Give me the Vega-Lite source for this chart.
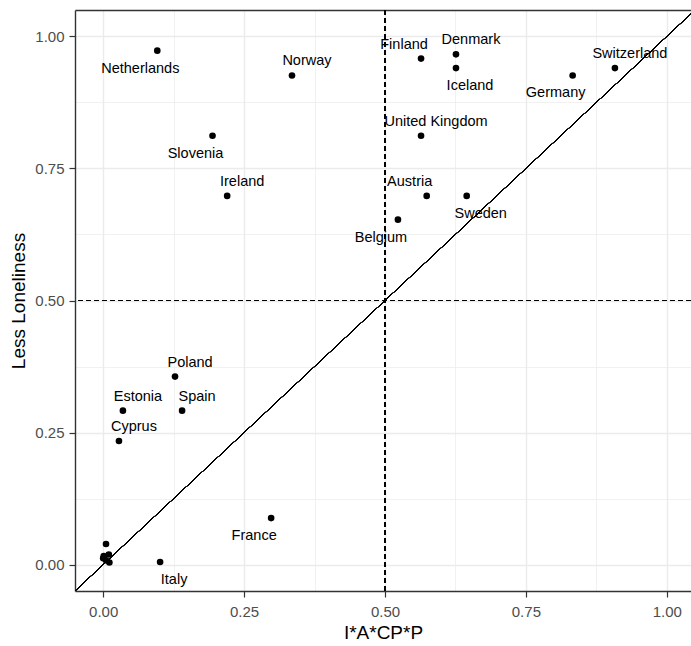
{
  "$schema": "https://vega.github.io/schema/vega-lite/v6.json",
  "autosize": {"type": "none"},
  "width": 616,
  "height": 581,
  "padding": {"left": 75, "top": 10, "right": 0, "bottom": 55},
  "background": "white",
  "config": {
    "view": {"stroke": null},
    "font": "Liberation Sans",
    "axis": {
      "domainColor": "#333333",
      "domainWidth": 1.4,
      "tickColor": "#333333",
      "tickWidth": 1.2,
      "tickSize": 6,
      "labelFont": "Liberation Sans",
      "labelFontSize": 15,
      "labelColor": "#4D4D4D",
      "titleFont": "Liberation Sans",
      "titleFontSize": 19,
      "titleFontWeight": "normal",
      "titleColor": "#000000",
      "gridColor": "#EBEBEB"
    }
  },
  "data": {
    "values": [
      {"country": "Netherlands", "x": 0.096, "y": 0.973},
      {"country": "Slovenia", "x": 0.194, "y": 0.812},
      {"country": "Ireland", "x": 0.220, "y": 0.698},
      {"country": "Norway", "x": 0.335, "y": 0.926},
      {"country": "Finland", "x": 0.564, "y": 0.958},
      {"country": "Denmark", "x": 0.626, "y": 0.966},
      {"country": "Iceland", "x": 0.626, "y": 0.940},
      {"country": "United Kingdom", "x": 0.564, "y": 0.812},
      {"country": "Austria", "x": 0.574, "y": 0.698},
      {"country": "Sweden", "x": 0.645, "y": 0.698},
      {"country": "Belgium", "x": 0.523, "y": 0.653},
      {"country": "Germany", "x": 0.833, "y": 0.926},
      {"country": "Switzerland", "x": 0.908, "y": 0.940},
      {"country": "Poland", "x": 0.1275, "y": 0.356},
      {"country": "Estonia", "x": 0.035, "y": 0.2915},
      {"country": "Spain", "x": 0.140, "y": 0.2915},
      {"country": "Cyprus", "x": 0.028, "y": 0.234},
      {"country": "France", "x": 0.298, "y": 0.088},
      {"country": "Italy", "x": 0.101, "y": 0.005},
      {"x": 0.005, "y": 0.039},
      {"x": 0.010, "y": 0.019},
      {"x": 0.000, "y": 0.012},
      {"x": 0.005, "y": 0.008},
      {"x": 0.011, "y": 0.004},
      {"x": 0.001, "y": 0.016}
    ]
  },
  "resolve": {"axis": {"x": "independent"}},
  "layer": [
    {
      "mark": {"type": "point", "filled": true, "opacity": 0, "size": 1},
      "encoding": {
        "x": {
          "field": "x", "type": "quantitative",
          "scale": {"domain": [-0.05, 1.043], "nice": false, "zero": false},
          "axis": {
            "title": "I*A*CP*P",
            "titlePadding": 4,
            "values": [0, 0.125, 0.25, 0.375, 0.5, 0.625, 0.75, 0.875, 1],
            "labelExpr": "indexof([0, 0.25, 0.5, 0.75, 1], datum.value) >= 0 ? format(datum.value, '.2f') : ''",
            "labelPadding": 7,
            "tickOpacity": {"condition": {"test": "indexof([0, 0.25, 0.5, 0.75, 1], datum.value) >= 0", "value": 1}, "value": 0},
            "gridWidth": {"condition": {"test": "indexof([0, 0.25, 0.5, 0.75, 1], datum.value) >= 0", "value": 1.4}, "value": 0.7}
          }
        },
        "y": {
          "field": "y", "type": "quantitative",
          "scale": {"domain": [-0.05, 1.05], "nice": false, "zero": false},
          "axis": {
            "title": "Less Loneliness",
            "titlePadding": 6,
            "values": [0, 0.125, 0.25, 0.375, 0.5, 0.625, 0.75, 0.875, 1],
            "labelExpr": "indexof([0, 0.25, 0.5, 0.75, 1], datum.value) >= 0 ? format(datum.value, '.2f') : ''",
            "labelPadding": 5,
            "tickOpacity": {"condition": {"test": "indexof([0, 0.25, 0.5, 0.75, 1], datum.value) >= 0", "value": 1}, "value": 0},
            "gridWidth": {"condition": {"test": "indexof([0, 0.25, 0.5, 0.75, 1], datum.value) >= 0", "value": 1.4}, "value": 0.7}
          }
        }
      }
    },
    {
      "mark": {"type": "rule", "color": "#000000", "strokeWidth": 0.8, "clip": true},
      "encoding": {
        "x": {"datum": -0.1, "type": "quantitative", "axis": {"orient": "top", "labels": false, "ticks": false, "grid": false, "title": null, "domain": true}},
        "y": {"datum": -0.1, "type": "quantitative"},
        "x2": {"datum": 1.2},
        "y2": {"datum": 1.2}
      }
    },
    {
      "mark": {"type": "rule", "color": "#000000", "strokeWidth": 1.1, "strokeDash": [5, 3]},
      "encoding": {
        "x": {"datum": 0.5, "type": "quantitative", "axis": null}
      }
    },
    {
      "mark": {"type": "rule", "color": "#000000", "strokeWidth": 1.1, "strokeDash": [5, 3]},
      "encoding": {
        "y": {"datum": 0.5, "type": "quantitative"}
      }
    },
    {
      "mark": {"type": "circle", "color": "#000000", "opacity": 1, "size": 44},
      "encoding": {
        "x": {"field": "x", "type": "quantitative", "axis": null},
        "y": {"field": "y", "type": "quantitative"}
      }
    },
    {
      "transform": [{"filter": {"field": "country", "oneOf": ["Ireland", "Norway", "Denmark", "United Kingdom", "Switzerland", "Poland", "Estonia", "Spain", "Cyprus"]}}],
      "mark": {"type": "text", "fontSize": 14.5, "color": "#000000", "align": "center", "baseline": "middle", "dx": 15, "dy": -14},
      "encoding": {
        "x": {"field": "x", "type": "quantitative", "axis": null},
        "y": {"field": "y", "type": "quantitative"},
        "text": {"field": "country"}
      }
    },
    {
      "transform": [{"filter": {"field": "country", "oneOf": ["Finland", "Austria"]}}],
      "mark": {"type": "text", "fontSize": 14.5, "color": "#000000", "align": "center", "baseline": "middle", "dx": -17, "dy": -14},
      "encoding": {
        "x": {"field": "x", "type": "quantitative", "axis": null},
        "y": {"field": "y", "type": "quantitative"},
        "text": {"field": "country"}
      }
    },
    {
      "transform": [{"filter": {"field": "country", "oneOf": ["Iceland", "Sweden", "Italy"]}}],
      "mark": {"type": "text", "fontSize": 14.5, "color": "#000000", "align": "center", "baseline": "middle", "dx": 14, "dy": 18},
      "encoding": {
        "x": {"field": "x", "type": "quantitative", "axis": null},
        "y": {"field": "y", "type": "quantitative"},
        "text": {"field": "country"}
      }
    },
    {
      "transform": [{"filter": {"field": "country", "oneOf": ["Netherlands", "Slovenia", "Belgium", "Germany", "France"]}}],
      "mark": {"type": "text", "fontSize": 14.5, "color": "#000000", "align": "center", "baseline": "middle", "dx": -17, "dy": 18},
      "encoding": {
        "x": {"field": "x", "type": "quantitative", "axis": null},
        "y": {"field": "y", "type": "quantitative"},
        "text": {"field": "country"}
      }
    }
  ]
}
